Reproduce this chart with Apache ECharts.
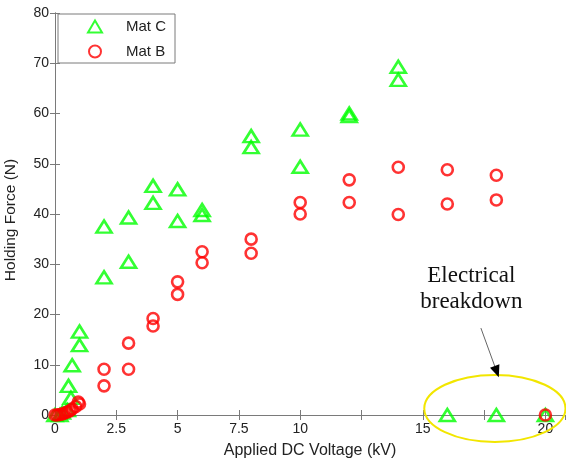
<!DOCTYPE html>
<html><head><meta charset="utf-8">
<script src="https://cdn.jsdelivr.net/npm/echarts@6/dist/echarts.min.js"></script>
<style>html,body{margin:0;padding:0;background:#fff}#c{width:566px;height:464px}</style>
</head><body><div id="c"></div>
<script>
// ---- data ----
const seriesNames = ['Mat C', 'Mat B'];
const matCVoltage = [0, 0.2, 0.3, 0.5, 0.55, 0.65, 0.7, 1, 1, 2, 2, 3, 3, 4, 4, 5, 5, 6, 6, 8, 8, 10, 10, 12, 12, 14, 14, 16, 18, 20];
const matCForce   = [0, 0, 0.5, 1.0, 5.8, 3.4, 9.9, 13.9, 16.6, 27.4, 37.5, 30.5, 39.3, 42.2, 45.6, 38.6, 44.9, 39.8, 40.8, 53.3, 55.5, 49.4, 56.8, 59.5, 60.0, 66.7, 69.3, 0, 0, 0];
const matBVoltage = [0, 0.1, 0.2, 0.3, 0.4, 0.5, 0.6, 0.7, 0.85, 0.95, 1, 2, 2, 3, 3, 4, 4, 5, 5, 6, 6, 8, 8, 10, 10, 12, 12, 14, 14, 16, 16, 18, 18, 20];
const matBForce   = [0, 0, 0.1, 0.2, 0.4, 0.6, 0.8, 1.2, 1.7, 2.6, 2.2, 5.8, 9.1, 9.1, 14.3, 17.7, 19.2, 24.0, 26.5, 30.3, 32.5, 32.2, 35.0, 40.0, 42.3, 42.3, 46.8, 39.9, 49.3, 42.0, 48.8, 42.8, 47.7, 0];
const xTickLabels = ['0', '2.5', '5', '7.5', '10', '15', '20'];
const yTickLabels = ['0', '10', '20', '30', '40', '50', '60', '70', '80'];
const xTitle = 'Applied DC Voltage (kV)';
const yTitle = 'Holding Force (N)';
const annotationLines = ['Electrical', 'breakdown'];

// ---- chart ----
const zip = (a, b) => a.map((v, i) => [v, b[i]]);
const axisColor = '#7a7a7a';
const labelColor = '#222';
const font = 'Liberation Sans, Arial, sans-serif';

const chart = echarts.init(document.getElementById('c'), null, {renderer: 'canvas'});
const baseX = {
  type: 'value', min: 0, max: 20.8, interval: 2.5,
  axisLine: {show: true, lineStyle: {color: axisColor, width: 1}},
  axisTick: {show: true, inside: true, length: 5, lineStyle: {color: axisColor}},
  splitLine: {show: false}
};
const baseY = {
  type: 'value', min: 0, max: 80, interval: 10,
  axisLine: {show: true, lineStyle: {color: axisColor, width: 1}},
  axisTick: {show: true, inside: true, length: 5, lineStyle: {color: axisColor}},
  splitLine: {show: false}
};
chart.setOption({
  animation: false,
  backgroundColor: '#fff',
  grid: {left: 55, right: 1, top: 13, bottom: 49, containLabel: false, outerBoundsMode: 'none'},
  xAxis: [
    Object.assign({}, baseX, {
      position: 'bottom',
      name: xTitle, nameLocation: 'middle', nameGap: 28,
      nameTextStyle: {fontFamily: font, fontSize: 16, color: labelColor},
      axisLabel: {
        show: true, margin: 7, fontFamily: font, fontSize: 14, color: labelColor,
        showMaxLabel: false,
        formatter: v => { const s = String(+v.toFixed(2)); return xTickLabels.includes(s) ? s : ''; }
      }
    }),
    Object.assign({}, baseX, {position: 'top', axisLabel: {show: false}})
  ],
  yAxis: [
    Object.assign({}, baseY, {
      position: 'left',
      name: yTitle, nameLocation: 'middle', nameGap: 36,
      nameTextStyle: {fontFamily: font, fontSize: 15.5, color: labelColor, padding: [0, 12, 0, 0]},
      axisLabel: {
        show: true, margin: 6, fontFamily: font, fontSize: 14, color: labelColor,
        formatter: v => { const s = String(v); return yTickLabels.includes(s) ? s : ''; }
      }
    }),
    Object.assign({}, baseY, {position: 'right', axisLabel: {show: false}})
  ],
  legend: {
    show: true, orient: 'vertical', left: 58, top: 14,
    backgroundColor: '#fff', borderColor: axisColor, borderWidth: 1, borderRadius: 0,
    padding: [5, 9, 4, 29], itemGap: 10, itemWidth: 14, itemHeight: 12,
    textStyle: {fontFamily: font, fontSize: 15, color: labelColor, padding: [0, 0, 0, 19]},
    data: seriesNames
  },
  series: [
    {
      name: seriesNames[0], type: 'scatter', xAxisIndex: 0, yAxisIndex: 0,
      symbol: 'triangle', symbolSize: [15, 12],
      itemStyle: {color: 'rgba(255,255,255,0)', borderColor: '#00ff00', borderWidth: 2.6},
      data: zip(matCVoltage, matCForce), z: 3
    },
    {
      name: seriesNames[1], type: 'scatter', xAxisIndex: 0, yAxisIndex: 0,
      symbol: 'circle', symbolSize: 11,
      itemStyle: {color: 'rgba(255,255,255,0)', borderColor: '#ff0000', borderWidth: 2.6},
      data: zip(matBVoltage, matBForce), z: 4
    }
  ]
});

// ---- annotation anchored in data space ----
const P = (v, f) => chart.convertToPixel({xAxisIndex: 0, yAxisIndex: 0}, [v, f]);
const c = P(17.94, 1.3);
const rxP = P(17.94 + 2.88, 0)[0] - c[0];
const ryP = P(0, 0)[1] - P(0, 6.67)[1];
const a0 = P(17.37, 17.3);
const tip = P(18.10, 7.5);
const dx = tip[0] - a0[0], dy = tip[1] - a0[1];
const L = Math.hypot(dx, dy), ux = dx / L, uy = dy / L;
const hl = 12, hw = 5;
const bx = tip[0] - ux * hl, by = tip[1] - uy * hl;
const t = P(16.98, 25.0);
chart.setOption({
  graphic: [
    {type: 'ellipse', shape: {cx: c[0], cy: c[1], rx: rxP, ry: ryP},
     style: {fill: 'none', stroke: '#f2e600', lineWidth: 2}, z: 100},
    {type: 'line', shape: {x1: a0[0], y1: a0[1], x2: bx, y2: by},
     style: {stroke: '#666', lineWidth: 1}, z: 100},
    {type: 'polygon', shape: {points: [[tip[0], tip[1]], [bx + uy * hw, by - ux * hw], [bx - uy * hw, by + ux * hw]]},
     style: {fill: '#000'}, z: 100},
    {type: 'text', x: t[0], y: t[1], z: 100,
     style: {text: annotationLines.join('\n'), fill: '#111', font: '23px "Liberation Serif", "Times New Roman", serif',
             textAlign: 'center', textVerticalAlign: 'middle', lineHeight: 26}}
  ]
});
</script>
</body></html>
